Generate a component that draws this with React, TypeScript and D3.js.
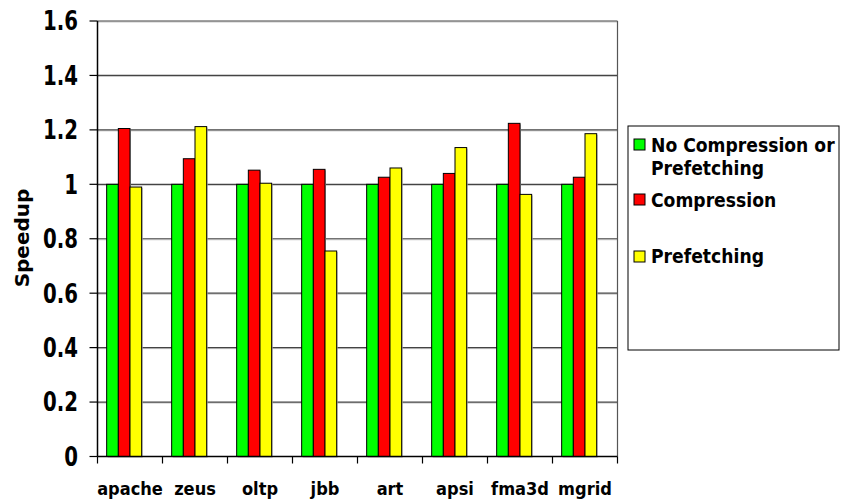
import React from "react";
import * as d3 from "d3";

const categories = ["apache", "zeus", "oltp", "jbb", "art", "apsi", "fma3d", "mgrid"];
const seriesNames = ["No Compression or Prefetching", "Compression", "Prefetching"];
const noCompression = [1, 1, 1, 1, 1, 1, 1, 1];
const compression = [1.205, 1.094, 1.052, 1.055, 1.026, 1.04, 1.224, 1.026];
const prefetching = [0.99, 1.212, 1.004, 0.755, 1.06, 1.135, 0.963, 1.186];
const seriesColors = ["#00ff00", "#ff0000", "#ffff00"];
const yTicks = [0, 0.2, 0.4, 0.6, 0.8, 1, 1.2, 1.4, 1.6];
const yTickLabels = ["0", "0.2", "0.4", "0.6", "0.8", "1", "1.2", "1.4", "1.6"];
const legendLines = [["No Compression or", "Prefetching"], ["Compression"], ["Prefetching"]];

const W = 841, H = 504;
const left = 97.5, right = 617.5, top = 21, bottom = 456.5;
const FONT = "'DejaVu Sans', Verdana, sans-serif";

export default function App() {
  const seriesValues = [noCompression, compression, prefetching];
  const x0 = d3.scaleBand<string>().domain(categories).range([left, right]).paddingInner(0).paddingOuter(0);
  const x1 = d3.scaleBand<string>().domain(["s0", "s1", "s2", "s3"]).range([0, x0.bandwidth()]).paddingInner(0).paddingOuter(0.785);
  const y = d3.scaleLinear().domain([0, 1.6]).range([bottom, top]);

  const legendSwatchY = [139, 194, 251];
  const legendBaselines = [[152, 175], [207], [263]];

  return (
    <svg width={W} height={H} style={{ position: "absolute", left: 0, top: 0, background: "#fff" }} fontFamily={FONT} fontWeight="bold">
      {/* gridlines */}
      {yTicks.filter(t => t > 0).map(t => (
        <g key={"g" + t}>
          <line x1={left} x2={right} y1={y(t) + 1} y2={y(t) + 1} stroke="#c8c8c8" strokeWidth={1} />
          <line x1={left} x2={right} y1={y(t)} y2={y(t)} stroke="#444" strokeWidth={1.2} />
        </g>
      ))}
      {/* right border */}
      <line x1={right} x2={right} y1={top} y2={bottom} stroke="#555" strokeWidth={1.2} />
      {/* bars */}
      {categories.map((c, ci) => (
        <g key={c}>
          {seriesValues.map((vals, si) => {
            const bx = (x0(c) as number) + (x1("s" + si) as number);
            const v = vals[ci];
            return (
              <g key={si}>
                <rect x={bx + 1} y={y(v) + 1} width={x1.bandwidth()} height={bottom - y(v)} fill="#b0b0b0" />
                <rect x={bx} y={y(v)} width={x1.bandwidth()} height={bottom - y(v)} fill={seriesColors[si]} stroke="#000" strokeWidth={1} />
              </g>
            );
          })}
        </g>
      ))}
      {/* axes */}
      <line x1={left} x2={left} y1={top} y2={bottom} stroke="#000" strokeWidth={1.5} />
      <line x1={left} x2={right} y1={bottom} y2={bottom} stroke="#000" strokeWidth={1.5} />
      {yTicks.map((t, i) => (
        <g key={"t" + t}>
          <line x1={left - 8} x2={left} y1={y(t)} y2={y(t)} stroke="#000" strokeWidth={1.2} />
          <text transform={`translate(78,${y(t)}) scale(0.76,1)`} dy="0.36em" textAnchor="end" fontSize={26} fill="#000">{yTickLabels[i]}</text>
        </g>
      ))}
      {categories.map(c => (
        <line key={"xt" + c} x1={x0(c) as number} x2={x0(c) as number} y1={bottom} y2={bottom + 7} stroke="#000" strokeWidth={1.2} />
      ))}
      <line x1={right} x2={right} y1={bottom} y2={bottom + 7} stroke="#000" strokeWidth={1.2} />
      {categories.map(c => (
        <text key={"xl" + c} transform={`translate(${(x0(c) as number) + x0.bandwidth() / 2},495) scale(0.94,1)`} textAnchor="middle" fontSize={17.3} fill="#000">{c}</text>
      ))}
      <text transform={`translate(28.5,238) rotate(-90)`} textAnchor="middle" fontSize={20} fill="#000">Speedup</text>
      {/* legend */}
      <rect x={628} y={126} width={211} height={224} fill="#fff" stroke="#000" strokeWidth={1} />
      {seriesNames.map((name, i) => (
        <g key={"lg" + i}>
          <title>{name}</title>
          <rect x={634} y={legendSwatchY[i]} width={11} height={11} fill={seriesColors[i]} stroke="#000" strokeWidth={1} />
          {legendLines[i].map((ln, li) => (
            <text key={li} transform={`translate(651,${legendBaselines[i][li]}) scale(0.86,1)`} fontSize={20} fill="#000">{ln}</text>
          ))}
        </g>
      ))}
    </svg>
  );
}
